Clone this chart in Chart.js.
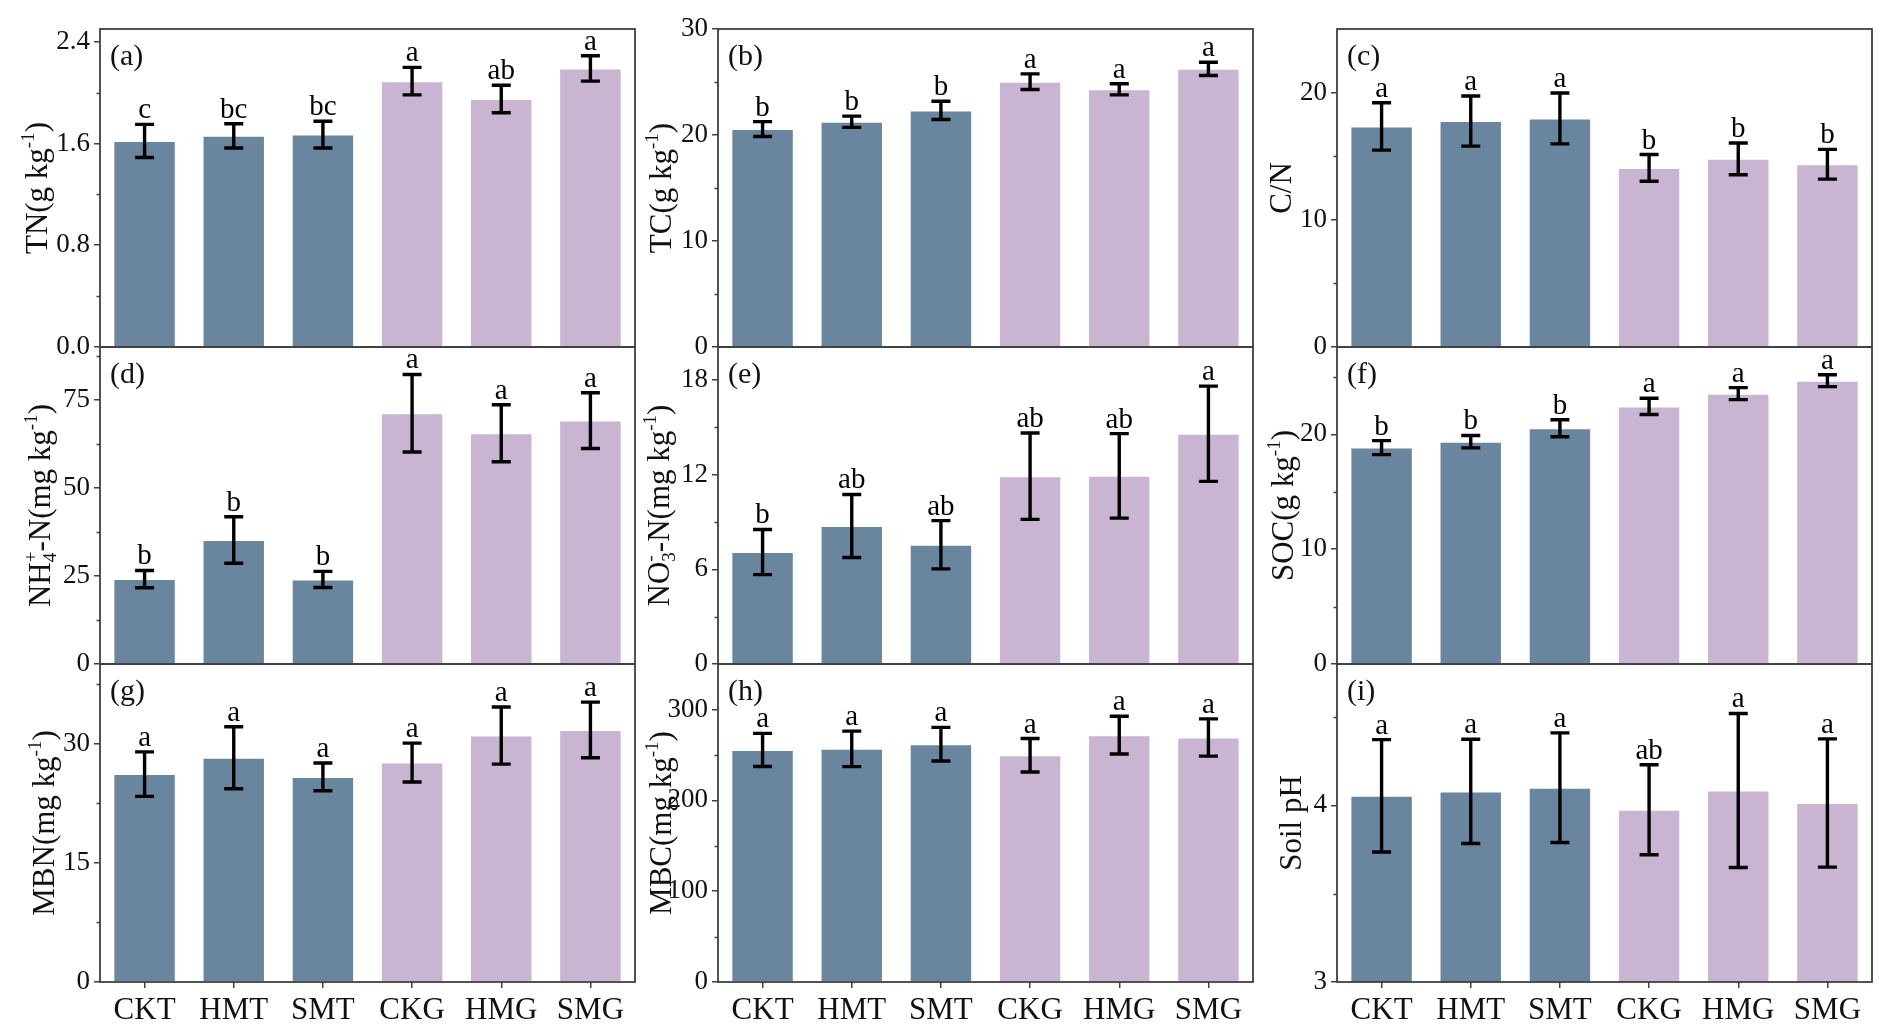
<!DOCTYPE html>
<html>
<head>
<meta charset="utf-8">
<script src="https://cdn.jsdelivr.net/npm/chart.js@4.4.1/dist/chart.umd.min.js"></script>
<style>
  html, body { margin: 0; padding: 0; background: #fff; }
  #wrap { position: relative; width: 1892px; height: 1035px; background: #fff; overflow: hidden; }
  #wrap canvas { position: absolute; }
</style>
</head>
<body>
<div id="wrap"></div>
<script>
const categories = ['CKT', 'HMT', 'SMT', 'CKG', 'HMG', 'SMG'];

// (a) TN
const tnMean = [1.62, 1.66, 1.67, 2.09, 1.95, 2.19];
const tnErr = [0.13, 0.095, 0.105, 0.108, 0.108, 0.10];
const tnSig = ['c', 'bc', 'bc', 'a', 'ab', 'a'];
const tnTicks = [0, 0.8, 1.6, 2.4];

// (b) TC
const tcMean = [20.56, 21.25, 22.32, 25.03, 24.31, 26.24];
const tcErr = [0.7, 0.53, 0.86, 0.74, 0.52, 0.63];
const tcSig = ['b', 'b', 'b', 'a', 'a', 'a'];
const tcTicks = [0, 10, 20, 30];

// (c) C/N
const cnMean = [17.34, 17.76, 17.97, 14.08, 14.79, 14.37];
const cnErr = [1.86, 1.97, 2.0, 1.05, 1.25, 1.17];
const cnSig = ['a', 'a', 'a', 'b', 'b', 'b'];
const cnTicks = [0, 10, 20];

// (d) NH4+-N
const nhMean = [24.1, 35.2, 24.0, 71.2, 65.5, 69.1];
const nhErr = [2.45, 6.6, 2.3, 11.0, 8.1, 7.9];
const nhSig = ['b', 'b', 'b', 'a', 'a', 'a'];
const nhTicks = [0, 25, 50, 75];

// (e) NO3--N
const noMean = [7.10, 8.75, 7.56, 11.91, 11.93, 14.60];
const noErr = [1.43, 2.0, 1.53, 2.74, 2.68, 3.02];
const noSig = ['b', 'ab', 'ab', 'ab', 'ab', 'a'];
const noTicks = [0, 6, 12, 18];

// (f) SOC
const socMean = [18.84, 19.36, 20.52, 22.43, 23.54, 24.67];
const socErr = [0.61, 0.54, 0.74, 0.71, 0.52, 0.52];
const socSig = ['b', 'b', 'b', 'a', 'a', 'a'];
const socTicks = [0, 10, 20];

// (g) MBN
const mbnMean = [26.15, 28.2, 25.8, 27.6, 31.0, 31.7];
const mbnErr = [2.8, 3.9, 1.75, 2.45, 3.6, 3.5];
const mbnSig = ['a', 'a', 'a', 'a', 'a', 'a'];
const mbnTicks = [0, 15, 30];

// (h) MBC
const mbcMean = [255.4, 256.6, 261.7, 249.6, 271.7, 269.1];
const mbcErr = [18.2, 19.5, 18.5, 18.4, 20.8, 20.5];
const mbcSig = ['a', 'a', 'a', 'a', 'a', 'a'];
const mbcTicks = [0, 100, 200, 300];

// (i) Soil pH
const phMean = [4.054, 4.079, 4.10, 3.975, 4.084, 4.013];
const phErr = [0.318, 0.295, 0.31, 0.255, 0.436, 0.363];
const phSig = ['a', 'a', 'a', 'ab', 'a', 'a'];
const phTicks = [3, 4];

const barColors = ['#6a869e', '#6a869e', '#6a869e', '#c9b4d1', '#c9b4d1', '#c9b4d1'];
const FONT = '"Liberation Serif", "Times New Roman", serif';

// plot area geometry (page pixels)
const colLeft = [100, 718, 1337];
const rowTop = [29, 347, 664];
const rowBottom = [347, 664, 982];
const plotW = 535;
const AXW = 100;

const panels = [
  { tag: '(a)', mean: tnMean, err: tnErr, sig: tnSig, major: tnTicks, min: 0, max: 2.5, minor: [0.4, 1.2, 2.0], dec: 1, col: 0, row: 0, tOff: 53,
    title: [{ t: 'TN(g kg' }, { sup: '-1' }, { t: ')' }] },
  { tag: '(b)', mean: tcMean, err: tcErr, sig: tcSig, major: tcTicks, min: 0, max: 30, minor: [5, 15, 25], dec: 0, col: 1, row: 0, tOff: 47,
    title: [{ t: 'TC(g kg' }, { sup: '-1' }, { t: ')' }] },
  { tag: '(c)', mean: cnMean, err: cnErr, sig: cnSig, major: cnTicks, min: 0, max: 25, minor: [5, 15], dec: 0, col: 2, row: 0, tOff: 46,
    title: [{ t: 'C/N' }] },
  { tag: '(d)', mean: nhMean, err: nhErr, sig: nhSig, major: nhTicks, min: 0, max: 90, minor: [12.5, 37.5, 62.5, 87.5], dec: 0, col: 0, row: 1, tOff: 50,
    title: [{ t: 'NH' }, { sub: '4', sup: '+' }, { t: '-N(mg kg' }, { sup: '-1' }, { t: ')' }] },
  { tag: '(e)', mean: noMean, err: noErr, sig: noSig, major: noTicks, min: 0, max: 20.1, minor: [3, 9, 15], dec: 0, col: 1, row: 1, tOff: 49,
    title: [{ t: 'NO' }, { sub: '3', sup: '-' }, { t: '-N(mg kg' }, { sup: '-1' }, { t: ')' }] },
  { tag: '(f)', mean: socMean, err: socErr, sig: socSig, major: socTicks, min: 0, max: 27.6, minor: [5, 15, 25], dec: 0, col: 2, row: 1, tOff: 44,
    title: [{ t: 'SOC(g kg' }, { sup: '-1' }, { t: ')' }] },
  { tag: '(g)', mean: mbnMean, err: mbnErr, sig: mbnSig, major: mbnTicks, min: 0, max: 40, minor: [7.5, 22.5, 37.5], dec: 0, col: 0, row: 2, tOff: 46,
    title: [{ t: 'MBN(mg kg' }, { sup: '-1' }, { t: ')' }] },
  { tag: '(h)', mean: mbcMean, err: mbcErr, sig: mbcSig, major: mbcTicks, min: 0, max: 350, minor: [50, 150, 250], dec: 0, col: 1, row: 2, tOff: 47,
    title: [{ t: 'MBC(mg kg' }, { sup: '-1' }, { t: ')' }] },
  { tag: '(i)', mean: phMean, err: phErr, sig: phSig, major: phTicks, min: 3, max: 4.8, minor: [3.5, 4.5], dec: 0, col: 2, row: 2, tOff: 36,
    title: [{ t: 'Soil pH' }] }
];

// rich text (super/subscripts) along the baseline, starting at x0
function richWidth(ctx, segs, size) {
  let w = 0;
  segs.forEach(s => {
    if (s.t) { ctx.font = size + 'px ' + FONT; w += ctx.measureText(s.t).width; }
    else {
      ctx.font = Math.round(size * 0.62) + 'px ' + FONT;
      w += Math.max(s.sup ? ctx.measureText(s.sup).width : 0, s.sub ? ctx.measureText(s.sub).width : 0);
    }
  });
  return w;
}
function drawRich(ctx, segs, size, x0) {
  let x = x0;
  const small = Math.round(size * 0.62);
  segs.forEach(s => {
    if (s.t) {
      ctx.font = size + 'px ' + FONT;
      ctx.fillText(s.t, x, 0);
      x += ctx.measureText(s.t).width;
    } else {
      ctx.font = small + 'px ' + FONT;
      let w = 0;
      if (s.sup) { ctx.fillText(s.sup, x, -size * 0.42); w = ctx.measureText(s.sup).width; }
      if (s.sub) { ctx.fillText(s.sub, x, size * 0.2); w = Math.max(w, ctx.measureText(s.sub).width); }
      x += w;
    }
  });
}

function decoPlugin(p) {
  return {
    id: 'deco',
    afterDatasetsDraw(chart) {
      const ctx = chart.ctx;
      const ys = chart.scales.y;
      const meta = chart.getDatasetMeta(0);
      ctx.save();
      ctx.strokeStyle = '#000';
      ctx.fillStyle = '#000';
      ctx.lineWidth = 3.4;
      ctx.lineCap = 'butt';
      meta.data.forEach((bar, i) => {
        const x = bar.x;
        const yt = ys.getPixelForValue(p.mean[i] + p.err[i]);
        const yb = ys.getPixelForValue(p.mean[i] - p.err[i]);
        ctx.beginPath();
        ctx.moveTo(x, yt); ctx.lineTo(x, yb);
        ctx.moveTo(x - 9.5, yt); ctx.lineTo(x + 9.5, yt);
        ctx.moveTo(x - 9.5, yb); ctx.lineTo(x + 9.5, yb);
        ctx.stroke();
        ctx.font = '29px ' + FONT;
        ctx.textAlign = 'center';
        ctx.textBaseline = 'alphabetic';
        ctx.fillText(p.sig[i], x, yt - 6);
      });
      ctx.restore();
    },
    afterDraw(chart) {
      const ctx = chart.ctx;
      const a = chart.chartArea;
      const ys = chart.scales.y;
      ctx.save();
      // frame
      ctx.strokeStyle = '#404040';
      ctx.lineWidth = 1.8;
      ctx.strokeRect(a.left, a.top, a.right - a.left, a.bottom - a.top);
      // minor ticks
      ctx.beginPath();
      p.minor.forEach(v => {
        const y = Math.round(ys.getPixelForValue(v)) + 0.5;
        ctx.moveTo(a.left - 3.5, y); ctx.lineTo(a.left, y);
      });
      ctx.lineWidth = 1.3;
      ctx.stroke();
      // panel tag
      ctx.fillStyle = '#111';
      ctx.font = '30px ' + FONT;
      ctx.textAlign = 'left';
      ctx.textBaseline = 'alphabetic';
      ctx.fillText(p.tag, a.left + 10, a.top + 36);
      // y title
      const size = 31;
      const w = richWidth(ctx, p.title, size);
      ctx.translate(a.left - p.tOff, (a.top + a.bottom) / 2);
      ctx.rotate(-Math.PI / 2);
      drawRich(ctx, p.title, size, -w / 2);
      ctx.restore();
    }
  };
}

const wrap = document.getElementById('wrap');
panels.forEach(p => {
  const last = p.row === 2;
  const padTop = 25, padRight = 14;
  const padBottom = last ? 0 : 25;
  const xH = last ? 60 : 0;
  const plotH = rowBottom[p.row] - rowTop[p.row];
  const canvas = document.createElement('canvas');
  const cw = AXW + plotW + padRight;
  const ch = padTop + plotH + padBottom + xH;
  canvas.width = cw; canvas.height = ch;
  canvas.style.width = cw + 'px'; canvas.style.height = ch + 'px';
  canvas.style.left = (colLeft[p.col] - AXW) + 'px';
  canvas.style.top = (rowTop[p.row] - padTop) + 'px';
  wrap.appendChild(canvas);

  new Chart(canvas.getContext('2d'), {
    type: 'bar',
    data: {
      labels: categories,
      datasets: [{
        data: p.mean,
        backgroundColor: barColors,
        borderColor: 'rgba(255,255,255,0.55)',
        borderWidth: 1,
        barPercentage: 0.7,
        categoryPercentage: 1.0
      }]
    },
    options: {
      responsive: false,
      animation: false,
      devicePixelRatio: 1,
      layout: { padding: { left: 0, top: padTop, right: padRight, bottom: padBottom } },
      plugins: { legend: { display: false }, tooltip: { enabled: false } },
      scales: {
        x: {
          offset: true,
          afterFit: s => { s.height = xH; },
          border: { display: false },
          grid: { display: last, offset: false, drawOnChartArea: false, tickLength: 6, color: '#404040', lineWidth: 1.5 },
          ticks: { display: last, padding: 4, color: '#111', font: { family: FONT, size: 31 }, maxRotation: 0 }
        },
        y: {
          min: p.min,
          max: p.max,
          afterFit: s => { s.width = AXW; },
          afterBuildTicks: s => { s.ticks = p.major.map(v => ({ value: v })); },
          border: { display: false },
          grid: { drawOnChartArea: false, tickLength: 6, color: '#404040', lineWidth: 1.5 },
          ticks: {
            padding: 4,
            color: '#111',
            font: { family: FONT, size: 27 },
            callback: v => Number(v).toFixed(p.dec)
          }
        }
      }
    },
    plugins: [decoPlugin(p)]
  });
});
</script>
</body>
</html>
